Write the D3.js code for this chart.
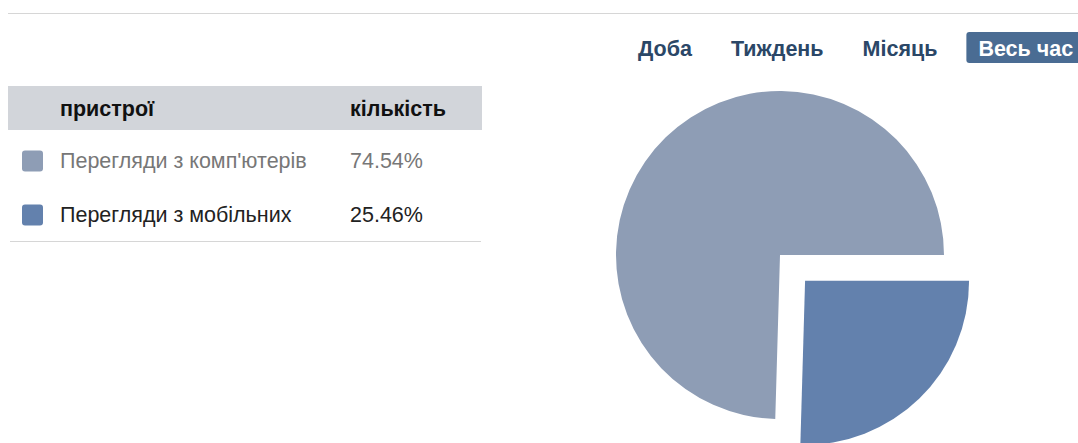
<!DOCTYPE html>
<html>
<head>
<meta charset="utf-8">
<script src="https://cdn.jsdelivr.net/npm/d3@7"></script>
<style>
  html, body { margin: 0; padding: 0; background: #fff; }
  svg { display: block; font-family: 'Liberation Sans', Arial, sans-serif; }
</style>
</head>
<body>
<div id="chart"></div>
<script>
// ── Data ─────────────────────────────────────────────────────────────────
const devices = ["Перегляди з комп'ютерів", 'Перегляди з мобільних'];
const shares  = [74.54, 25.46];
const headers = ['пристрої', 'кількість'];
const periods = ['Доба', 'Тиждень', 'Місяць', 'Весь час'];
const activePeriod = 'Весь час';

const W = 1078, H = 443;
const colors  = ['#8e9db5', '#6381ad'];
const textCol = ['#777', '#222'];

const svg = d3.select('#chart').append('svg')
  .attr('width', W).attr('height', H)
  .attr('viewBox', `0 0 ${W} ${H}`);

// top rule
svg.append('line')
  .attr('x1', 8).attr('x2', W).attr('y1', 13.5).attr('y2', 13.5)
  .attr('stroke', '#d6d6d6').attr('stroke-width', 1);

// ── Period switcher ──────────────────────────────────────────────────────
const sw = svg.append('g');
let px = 638;
periods.forEach(p => {
  const on = p === activePeriod;
  const g = sw.append('g');
  const t = g.append('text')
    .attr('y', 48.5)
    .attr('dominant-baseline', 'central')
    .attr('font-size', '21.5px')
    .attr('font-weight', 'bold')
    .attr('fill', on ? '#fff' : '#2b4767')
    .text(p);
  const w = t.node().getComputedTextLength();
  if (on) {
    px -= 10;
    g.insert('rect', 'text')
      .attr('x', px).attr('y', 32)
      .attr('width', W - px + 4).attr('height', 31)
      .attr('rx', 3)
      .attr('fill', '#4a6c93');
    px += 12;
  }
  t.attr('x', px);
  px += w + 39;
});

// ── Table ────────────────────────────────────────────────────────────────
const y = d3.scaleBand().domain(devices).range([134, 242]);
const colX = [60, 350];

svg.append('rect')
  .attr('x', 8).attr('y', 86).attr('width', 474).attr('height', 44)
  .attr('fill', '#d2d5da');

svg.selectAll('text.head')
  .data(headers).enter()
  .append('text')
  .attr('class', 'head')
  .attr('x', (_, i) => colX[i])
  .attr('y', 109)
  .attr('dominant-baseline', 'central')
  .attr('font-size', '21.5px')
  .attr('font-weight', 'bold')
  .attr('fill', '#111')
  .text(d => d);

const rows = svg.selectAll('g.row')
  .data(devices).enter()
  .append('g')
  .attr('class', 'row')
  .attr('transform', d => `translate(0,${y(d) + y.bandwidth() / 2})`);

rows.append('rect')
  .attr('x', 22).attr('y', -10.5)
  .attr('width', 21).attr('height', 21)
  .attr('rx', 3)
  .attr('fill', (_, i) => colors[i]);

rows.append('text')
  .attr('x', colX[0])
  .attr('dominant-baseline', 'central')
  .attr('font-size', '21.5px')
  .attr('fill', (_, i) => textCol[i])
  .text(d => d);

rows.append('text')
  .attr('x', colX[1])
  .attr('dominant-baseline', 'central')
  .attr('font-size', '21.5px')
  .attr('fill', (_, i) => textCol[i])
  .text((_, i) => shares[i].toFixed(2) + '%');

svg.append('line')
  .attr('x1', 10).attr('x2', 481).attr('y1', 241.5).attr('y2', 241.5)
  .attr('stroke', '#d6d6d6').attr('stroke-width', 1);

// ── Pie ──────────────────────────────────────────────────────────────────
const cx = 780, cy = 255, R = 164, EXPLODE = 36;
// desktop slice ends at 3 o'clock, mobile slice follows clockwise
const start = Math.PI / 2 - 2 * Math.PI * shares[0] / 100;
const pie = d3.pie().sort(null).value(d => d)
  .startAngle(start).endAngle(start + 2 * Math.PI);
const arc = d3.arc().innerRadius(0).outerRadius(R);

const pg = svg.append('g').attr('transform', `translate(${cx},${cy})`);
pg.selectAll('path')
  .data(pie(shares)).enter()
  .append('path')
  .attr('d', arc)
  .attr('fill', (_, i) => colors[i])
  .attr('transform', (d, i) => {
    if (i !== 1) return null;
    const a = (d.startAngle + d.endAngle) / 2;
    return `translate(${Math.sin(a) * EXPLODE},${-Math.cos(a) * EXPLODE})`;
  });
</script>
</body>
</html>
